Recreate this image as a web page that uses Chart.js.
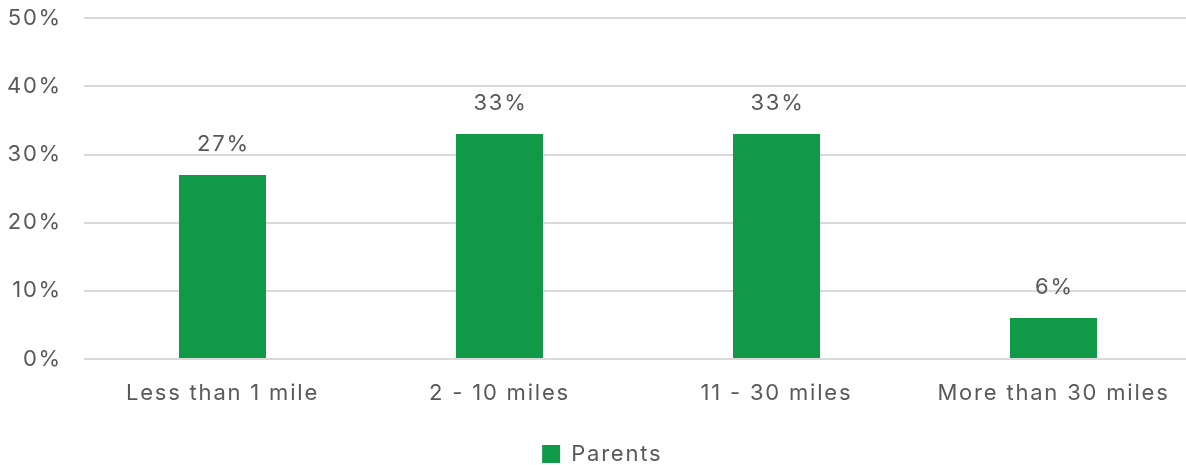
<!DOCTYPE html>
<html>
<head>
<meta charset="utf-8">
<script src="https://cdn.jsdelivr.net/npm/chart.js@4/dist/chart.umd.min.js"></script>
<style>
  html, body { margin: 0; padding: 0; background: #fff; overflow: hidden; }
  #wrap { width: 1192px; height: 492px; margin-top: -17px; }
</style>
</head>
<body>
<div id="wrap"><canvas id="chart"></canvas></div>
<script>
// chart data
const categories = ['Less than 1 mile', '2 - 10 miles', '11 - 30 miles', 'More than 30 miles'];
const parentsValues = [27, 33, 33, 6];
const yTicks = [0, 10, 20, 30, 40, 50];

const textColor = '#595959';
const barColor = '#109a48';
const fontFamily = 'Inter, "Open Sans", sans-serif';
const fontSize = 22;

// wider letters, closer to the original font
const spacing = {
    id: 'spacing',
    beforeInit(chart) { chart.ctx.letterSpacing = '1.8px'; },
    beforeDraw(chart) { chart.ctx.letterSpacing = '1.8px'; }
};

// draws the value above each bar
const valueLabels = {
    id: 'valueLabels',
    afterDatasetsDraw(chart) {
        const ctx = chart.ctx;
        ctx.save();
        ctx.font = fontSize + 'px ' + fontFamily;
        ctx.fillStyle = textColor;
        ctx.textAlign = 'center';
        ctx.textBaseline = 'bottom';
        chart.getDatasetMeta(0).data.forEach((bar, i) => {
            ctx.fillText(parentsValues[i] + '%', bar.x + 1, bar.y - 20);
        });
        ctx.restore();
    }
};

const ctx = document.getElementById('chart');
new Chart(ctx, {
    type: 'bar',
    data: {
        labels: categories,
        datasets: [{
            label: 'Parents',
            data: parentsValues,
            backgroundColor: barColor,
            borderWidth: 0,
            barPercentage: 1,
            categoryPercentage: 0.314
        }]
    },
    options: {
        responsive: true,
        maintainAspectRatio: false,
        animation: false,
        layout: { padding: 0 },
        plugins: {
            legend: {
                position: 'bottom',
                labels: {
                    color: textColor,
                    font: { family: fontFamily, size: fontSize },
                    boxWidth: 18,
                    boxHeight: 18,
                    padding: 2
                }
            },
            tooltip: { enabled: false }
        },
        scales: {
            x: {
                grid: { display: false },
                border: { display: false },
                ticks: {
                    color: textColor,
                    font: { family: fontFamily, size: fontSize },
                    padding: 13,
                    maxRotation: 0
                },
                afterFit: (scale) => { scale.height = 82; }
            },
            y: {
                min: 0,
                max: 50,
                afterBuildTicks: (scale) => {
                    scale.ticks = yTicks.map(v => ({ value: v }));
                },
                grid: { color: '#d9d9d9', lineWidth: 2, drawTicks: false },
                border: { display: false },
                ticks: {
                    color: textColor,
                    font: { family: fontFamily, size: fontSize },
                    padding: 22,
                    callback: (v) => v + '%'
                },
                afterFit: (scale) => { scale.width = 84; }
            }
        }
    },
    plugins: [spacing, valueLabels]
});
</script>
</body>
</html>
